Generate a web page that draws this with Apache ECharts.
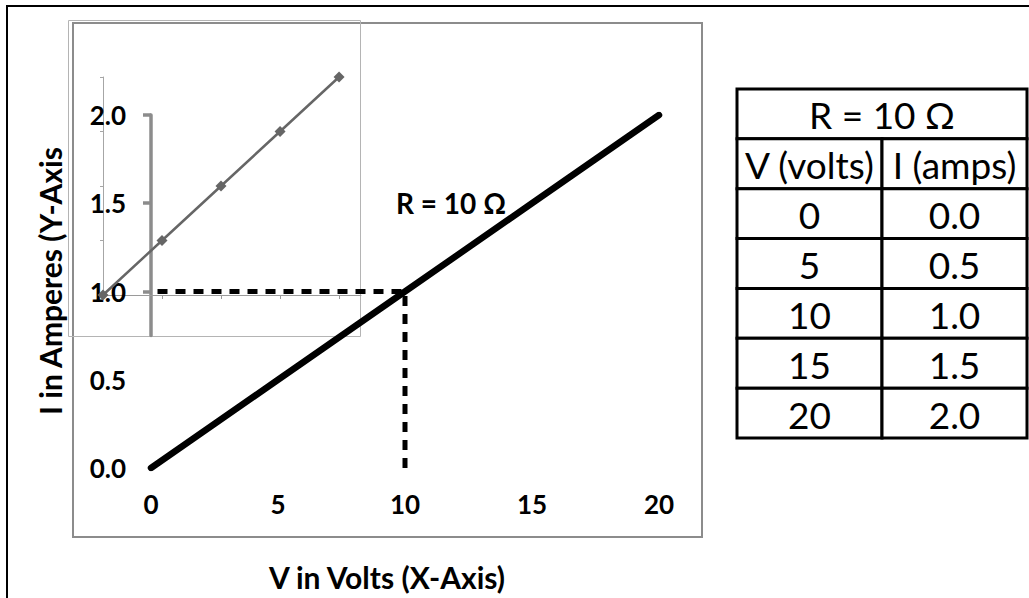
<!DOCTYPE html>
<html><head><meta charset="utf-8">
<script src="https://cdn.jsdelivr.net/npm/echarts@6/dist/echarts.min.js"></script>
<style>html,body{margin:0;padding:0;background:#fff}#c{width:1029px;height:598px}</style>
</head><body><div id="c"></div>
<script>
// ---- data ----
var voltage = [0, 5, 10, 15, 20];
var current = [0.0, 0.5, 1.0, 1.5, 2.0];
var insetV = [0, 5, 10, 15, 20];
var insetI = [0.0, 0.5, 1.0, 1.5, 2.0];
var xTicks = [0, 5, 10, 15, 20];
var yTicks = [0.0, 0.5, 1.0, 1.5, 2.0];
var guideV = [10];
var guideI = [1.0];
var resistanceLabel = 'R = 10 \u03A9';
var tableTitle = 'R = 10 \u03A9';
var tableHeaders = ['V (volts)', 'I (amps)'];
var tableV = ['0', '5', '10', '15', '20'];
var tableI = ['0.0', '0.5', '1.0', '1.5', '2.0'];
var xTitle = 'V in Volts (X-Axis)';
var yTitle = 'I in Amperes (Y-Axis';

// ---- build ----
var FONT = 'Lato';
var mainData = voltage.map(function (v, i) { return [v, current[i]]; });
var insetData = insetV.map(function (v, i) { return [v, insetI[i]]; });
var guideData = [[guideV[0], 0], [guideV[0], guideI[0]], [0, guideI[0]]];

var cells = [];
cells.push({ c0: 0, c1: 2, r: 0, text: tableTitle });
cells.push({ c0: 0, c1: 1, r: 1, text: tableHeaders[0] });
cells.push({ c0: 1, c1: 2, r: 1, text: tableHeaders[1] });
tableV.forEach(function (v, i) {
  cells.push({ c0: 0, c1: 1, r: i + 2, text: v });
  cells.push({ c0: 1, c1: 2, r: i + 2, text: tableI[i] });
});

var chart = echarts.init(document.getElementById('c'), null, { renderer: 'svg' });
var boldLabel = { fontFamily: FONT, fontWeight: 'bold', fontSize: 26, color: '#000' };

chart.setOption({
  animation: false,
  backgroundColor: '#fff',
  title: {
    text: resistanceLabel, left: 396, top: 189, padding: 0,
    textStyle: { fontFamily: FONT, fontWeight: 'bold', fontSize: 28, color: '#000' }
  },
  graphic: [
    { type: 'rect', z: 0, shape: { x: 7, y: 6, width: 1060, height: 640 }, style: { fill: 'none', stroke: '#000', lineWidth: 2 } },
    { type: 'rect', z: 0, shape: { x: 73, y: 23, width: 629, height: 514 }, style: { fill: 'none', stroke: '#8c8c8c', lineWidth: 2 } },
    { type: 'rect', z: 0, shape: { x: 68.5, y: 20.5, width: 292, height: 316 }, style: { fill: 'none', stroke: '#b4b4b4', lineWidth: 1 } },
    { type: 'text', z: 1, x: 50, y: 281, rotation: Math.PI / 2,
      style: { text: yTitle, fontFamily: FONT, fontWeight: 'bold', fontSize: 30, fill: '#000', align: 'center', verticalAlign: 'middle' } },
    { type: 'text', z: 1, x: 387, y: 577,
      style: { text: xTitle, fontFamily: FONT, fontWeight: 'bold', fontSize: 30, fill: '#000', align: 'center', verticalAlign: 'middle' } }
  ],
  grid: [
    { left: 151, top: 115, width: 508, height: 353 },          // main plot
    { left: 151, top: 115, width: 20, height: 220.6 },         // visible stub of main y-axis
    { left: 103, top: 77, width: 258, height: 218 },           // inset chart
    { left: 737, top: 89, width: 290, height: 349 }            // table
  ],
  xAxis: [
    { gridIndex: 0, type: 'value', min: 0, max: 20, interval: 5,
      axisLine: { show: false }, axisTick: { show: false }, splitLine: { show: false },
      axisLabel: Object.assign({ margin: 23 }, boldLabel) },
    { gridIndex: 1, type: 'value', min: 0, max: 1, show: false },
    { gridIndex: 2, type: 'value', min: 0, max: 21.86, interval: 5,
      axisLine: { show: true, lineStyle: { color: '#9a9a9a', width: 1 } },
      axisTick: { show: true, length: 4, customValues: [5, 10, 15, 20], lineStyle: { color: '#9a9a9a', width: 1 } },
      axisLabel: { show: false }, splitLine: { show: false } },
    { gridIndex: 3, type: 'value', min: 0, max: 2, show: false }
  ],
  yAxis: [
    { gridIndex: 0, type: 'value', min: 0, max: 2, interval: 0.5,
      axisLine: { show: false }, axisTick: { show: false }, splitLine: { show: false },
      axisLabel: Object.assign({ margin: 25, formatter: function (v) { return v.toFixed(1); } }, boldLabel) },
    { gridIndex: 1, type: 'value', min: 0.75, max: 2,
      axisLine: { show: true, lineStyle: { color: '#8c8c8c', width: 3.5 } },
      axisTick: { show: true, length: 8, customValues: [1, 1.5, 2], lineStyle: { color: '#8c8c8c', width: 3.5 } },
      axisLabel: { show: false }, splitLine: { show: false } },
    { gridIndex: 2, type: 'value', min: 0, max: 2, interval: 0.5,
      axisLine: { show: true, lineStyle: { color: '#a6a6a6', width: 1 } },
      axisTick: { show: true, length: 3, lineStyle: { color: '#a6a6a6', width: 1 } },
      axisLabel: { show: false }, splitLine: { show: false } },
    { gridIndex: 3, type: 'value', min: 0, max: 7, inverse: true, show: false }
  ],
  series: [
    { type: 'line', xAxisIndex: 2, yAxisIndex: 2, data: insetData, z: 2,
      symbol: 'diamond', symbolSize: 11, showSymbol: true,
      lineStyle: { color: '#666666', width: 2.5 }, itemStyle: { color: '#666666' } },
    { type: 'line', xAxisIndex: 0, yAxisIndex: 0, data: guideData, z: 3,
      symbol: 'none',
      lineStyle: { color: '#000', width: 5, type: [10, 8], cap: 'butt' } },
    { type: 'line', xAxisIndex: 0, yAxisIndex: 0, data: mainData, z: 4,
      symbol: 'none',
      lineStyle: { color: '#000', width: 6.5, cap: 'round' } },
    { type: 'custom', xAxisIndex: 3, yAxisIndex: 3, z: 2,
      data: cells.map(function (c) { return [c.c0, c.c1, c.r]; }),
      renderItem: function (params, api) {
        var c = cells[params.dataIndex];
        var p0 = api.coord([api.value(0), api.value(2)]);
        var p1 = api.coord([api.value(1), api.value(2) + 1]);
        return {
          type: 'group',
          children: [
            { type: 'rect', shape: { x: p0[0], y: p0[1], width: p1[0] - p0[0], height: p1[1] - p0[1] },
              style: { fill: '#fff', stroke: '#000', lineWidth: 3 } },
            { type: 'text', x: (p0[0] + p1[0]) / 2, y: (p0[1] + p1[1]) / 2 + 1,
              style: { text: c.text, fontFamily: FONT, fontSize: 37, fill: '#000', align: 'center', verticalAlign: 'middle' } }
          ]
        };
      } }
  ]
});
</script>
</body></html>
